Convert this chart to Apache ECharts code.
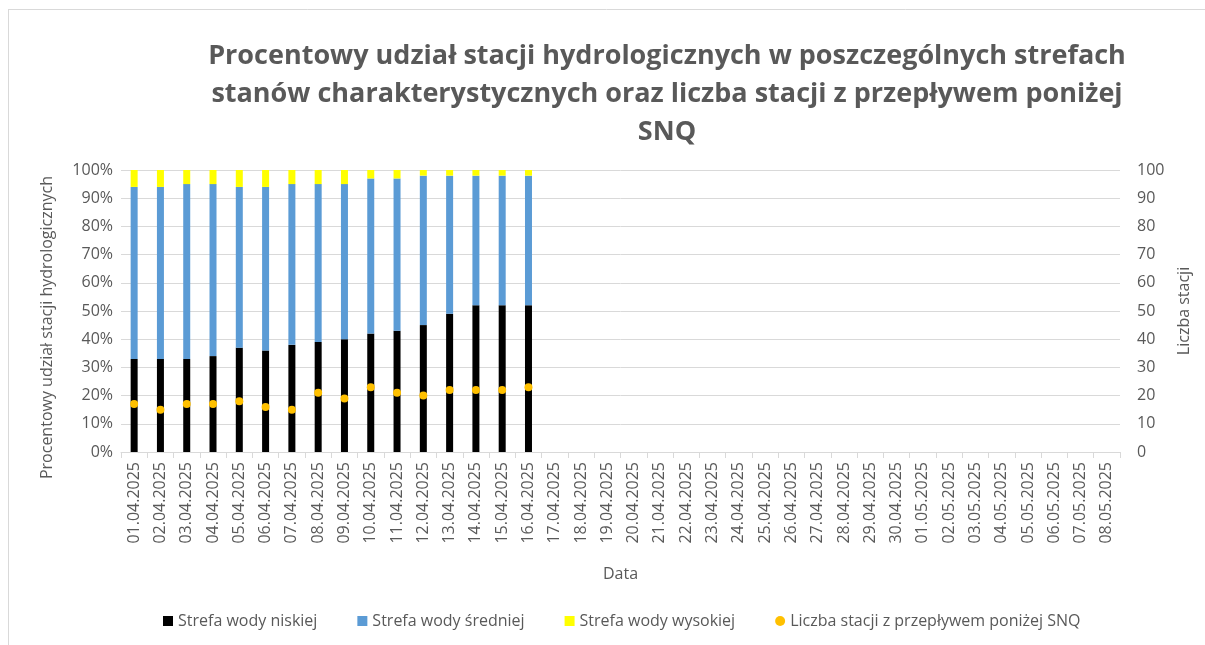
<!DOCTYPE html>
<html>
<head>
<meta charset="utf-8">
<script src="https://cdn.jsdelivr.net/npm/echarts@6/dist/echarts.min.js"></script>
<style>
  html, body { margin: 0; padding: 0; background: #fff; }
  #chart { width: 1205px; height: 645px; }
</style>
</head>
<body>
<div id="chart"></div>
<script>
// daty (os X)
var dates = [
    '01.04.2025', '02.04.2025', '03.04.2025', '04.04.2025', '05.04.2025', '06.04.2025',
    '07.04.2025', '08.04.2025', '09.04.2025', '10.04.2025', '11.04.2025', '12.04.2025',
    '13.04.2025', '14.04.2025', '15.04.2025', '16.04.2025', '17.04.2025', '18.04.2025',
    '19.04.2025', '20.04.2025', '21.04.2025', '22.04.2025', '23.04.2025', '24.04.2025',
    '25.04.2025', '26.04.2025', '27.04.2025', '28.04.2025', '29.04.2025', '30.04.2025',
    '01.05.2025', '02.05.2025', '03.05.2025', '04.05.2025', '05.05.2025', '06.05.2025',
    '07.05.2025', '08.05.2025'
];

// udzial procentowy stacji w strefach
var niska   = [33, 33, 33, 34, 37, 36, 38, 39, 40, 42, 43, 45, 49, 52, 52, 52];
var srednia = [61, 61, 62, 61, 57, 58, 57, 56, 55, 55, 54, 53, 49, 46, 46, 46];
var wysoka  = [6, 6, 5, 5, 6, 6, 5, 5, 5, 3, 3, 2, 2, 2, 2, 2];

// liczba stacji z przeplywem ponizej SNQ
var ponizejSNQ = [17, 15, 17, 17, 18, 16, 15, 21, 19, 23, 21, 20, 22, 22, 22, 23];

var leftTicks = [0, 10, 20, 30, 40, 50, 60, 70, 80, 90, 100];

var grey = '#595959';
var font = 'Open Sans';

var myChart = echarts.init(document.getElementById('chart'));

var option = {
    animation: false,
    textStyle: { fontFamily: font },
    title: {
        text: 'Procentowy udział stacji hydrologicznych w poszczególnych strefach\nstanów charakterystycznych oraz liczba stacji z przepływem poniżej\nSNQ',
        left: 662,
        top: 32,
        textAlign: 'center',
        textStyle: {
            fontFamily: font,
            fontSize: 27,
            fontWeight: 'bold',
            color: grey,
            lineHeight: 38
        }
    },
    graphic: [
        { type: 'line', shape: { x1: 8, y1: 9.5, x2: 1205, y2: 9.5 }, style: { stroke: '#d9d9d9', lineWidth: 1 } },
        { type: 'line', shape: { x1: 8.5, y1: 9, x2: 8.5, y2: 645 }, style: { stroke: '#d9d9d9', lineWidth: 1 } }
    ],
    legend: {
        bottom: 11,
        left: 158,
        itemGap: 40,
        itemWidth: 10,
        itemHeight: 10,
        textStyle: { fontFamily: font, fontSize: 16, color: grey },
        data: [
            { name: 'Strefa wody niskiej', icon: 'rect' },
            { name: 'Strefa wody średniej', icon: 'rect' },
            { name: 'Strefa wody wysokiej', icon: 'rect' },
            { name: 'Liczba stacji z przepływem poniżej SNQ', icon: 'circle', itemStyle: { color: '#FFC000', opacity: 1 } }
        ]
    },
    grid: {
        left: 121,
        right: 85,
        top: 170,
        bottom: 193
    },
    xAxis: {
        type: 'category',
        data: dates,
        name: 'Data',
        nameLocation: 'middle',
        nameGap: 114,
        nameTextStyle: { fontSize: 16, color: grey },
        axisLine: { lineStyle: { color: '#d9d9d9' } },
        axisTick: { show: true, alignWithLabel: false, length: 6, lineStyle: { color: '#d9d9d9' } },
        axisLabel: { rotate: 90, fontSize: 16, color: grey, interval: 0, margin: 10 }
    },
    yAxis: [
        {
            type: 'value',
            min: leftTicks[0],
            max: leftTicks[leftTicks.length - 1],
            interval: 10,
            name: 'Procentowy udział stacji hydrologicznych',
            nameLocation: 'middle',
            nameGap: 66,
            nameTextStyle: { fontSize: 16, color: grey, padding: [0, 33, 0, 0] },
            axisLine: { show: false },
            axisTick: { show: false },
            axisLabel: { fontSize: 16, color: grey, formatter: '{value}%', margin: 8 },
            splitLine: { lineStyle: { color: '#d9d9d9' } }
        },
        {
            type: 'value',
            min: 0,
            max: 100,
            interval: 10,
            name: 'Liczba stacji',
            nameLocation: 'middle',
            nameGap: 56,
            nameRotate: 90,
            nameTextStyle: { fontSize: 16, color: grey },
            axisLine: { show: false },
            axisTick: { show: false },
            axisLabel: { fontSize: 16, color: grey, margin: 17 },
            splitLine: { show: false }
        }
    ],
    series: [
        {
            name: 'Strefa wody niskiej',
            type: 'bar',
            stack: 'strefy',
            barWidth: 7,
            itemStyle: { color: '#000000' },
            data: niska
        },
        {
            name: 'Strefa wody średniej',
            type: 'bar',
            stack: 'strefy',
            barWidth: 7,
            itemStyle: { color: '#5B9BD5' },
            data: srednia
        },
        {
            name: 'Strefa wody wysokiej',
            type: 'bar',
            stack: 'strefy',
            barWidth: 7,
            itemStyle: { color: '#FFFF00' },
            data: wysoka
        },
        {
            name: 'Liczba stacji z przepływem poniżej SNQ',
            type: 'scatter',
            yAxisIndex: 1,
            symbol: 'circle',
            symbolSize: 8,
            itemStyle: { color: '#FFC000', opacity: 1 },
            z: 5,
            data: ponizejSNQ
        }
    ]
};
myChart.setOption(option);
</script>
</body>
</html>
